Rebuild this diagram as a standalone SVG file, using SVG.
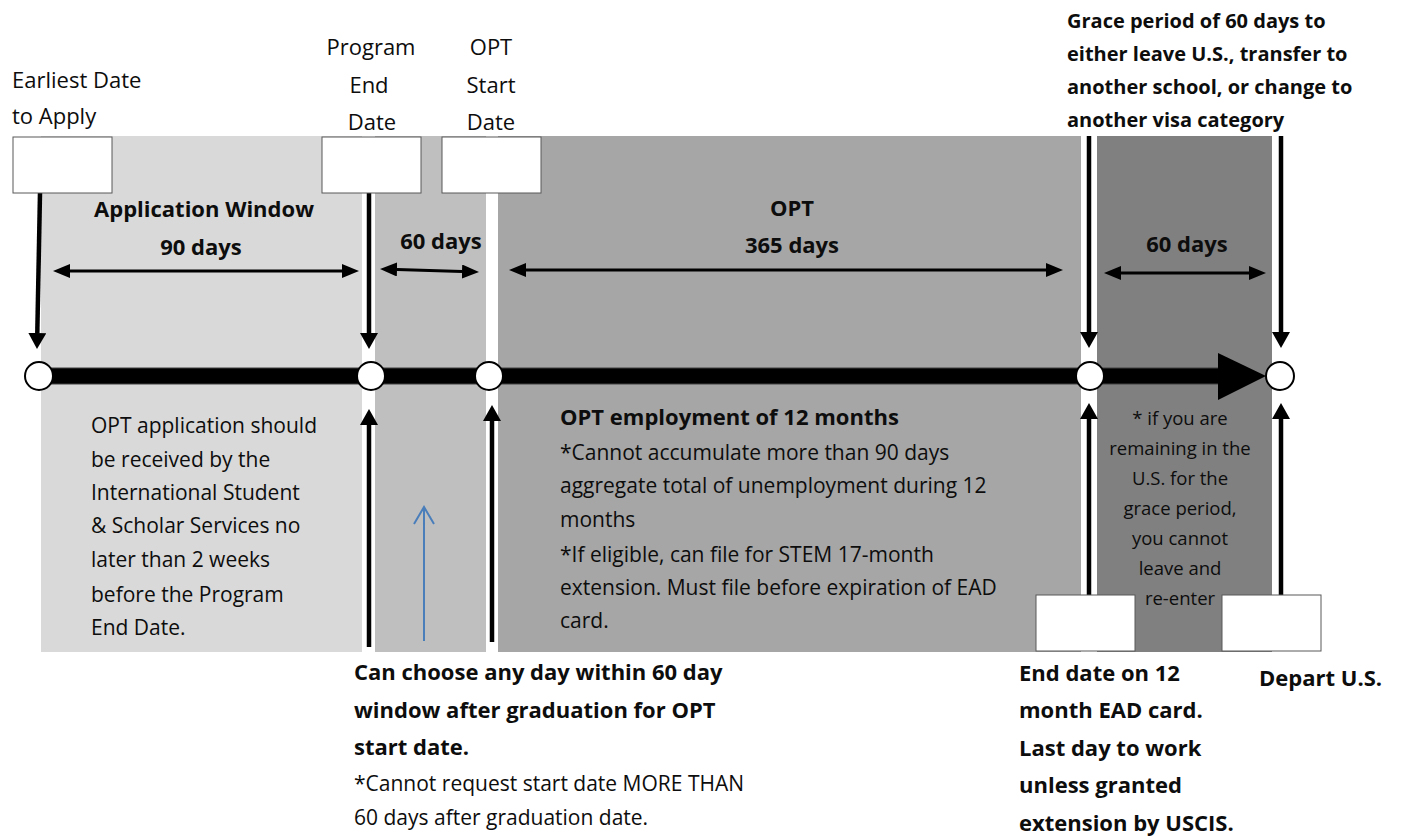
<svg xmlns="http://www.w3.org/2000/svg" width="1402" height="836" viewBox="0 0 1402 836">
<style>
text{font-family:"Open Sans","Liberation Sans",sans-serif;fill:#0d0d0d}
.b{font-weight:bold}
.t22{font-size:22px}
.t21{font-size:21px}
.t20{font-size:20px}
.t18{font-size:18.5px}
.c{text-anchor:middle}
.box{fill:#fff;stroke:#595959;stroke-width:1}
.arr{stroke:#000;stroke-width:4.5;fill:none;marker-end:url(#ah)}
.dbl{stroke:#000;stroke-width:3;fill:none;marker-start:url(#dh);marker-end:url(#dh)}
.node{fill:#fff;stroke:#000;stroke-width:2}
</style>
<defs>
<marker id="ah" viewBox="0 0 16 18" refX="0" refY="9" markerWidth="16" markerHeight="18" orient="auto" markerUnits="userSpaceOnUse"><path d="M0,0 L16,9 L0,18 z" fill="#000"/></marker>
<marker id="dh" viewBox="0 0 17 14" refX="0" refY="7" markerWidth="17" markerHeight="14" orient="auto-start-reverse" markerUnits="userSpaceOnUse"><path d="M0,0 L17,7 L0,14 z" fill="#000"/></marker>
</defs>
<rect width="1402" height="836" fill="#fff"/>
<g id="panels">
<rect x="41" y="136" width="321" height="516" fill="#d9d9d9"/>
<rect x="375" y="136" width="111" height="516" fill="#bfbfbf"/>
<rect x="498" y="136" width="583" height="516" fill="#a6a6a6"/>
<rect x="1097" y="136" width="175" height="516" fill="#808080"/>
</g>
<g id="connectors">
<path class="arr" d="M40,193 L37.3,333"/>
<path class="arr" d="M369,193 L369,333"/>
<path class="arr" d="M1089,136 L1089,332"/>
<path class="arr" d="M1281,136 L1281,332"/>
<path class="arr" d="M369,647 L369,425"/>
<path class="arr" d="M492,642 L492,421"/>
<path class="arr" d="M1089,595 L1089,419"/>
<path class="arr" d="M1281,595 L1281,419"/>
<path d="M424,641 L424,507 M414,524 L424,507 L434,524" stroke="#4a7ebb" stroke-width="2" fill="none"/>
<path class="dbl" d="M70,271 L342,271"/>
<path class="dbl" d="M397,269.5 L462,271.5"/>
<path class="dbl" d="M526,270 L1046,270"/>
<path class="dbl" d="M1121,273 L1249,273"/>
<rect x="39" y="368" width="1180" height="16" fill="#000" stroke="#404040" stroke-width="1"/>
<path d="M1218,353 L1266,376 L1218,400 z" fill="#000"/>
</g>
<g id="timeline-nodes">
<circle class="node" cx="39" cy="376" r="14"/>
<circle class="node" cx="371" cy="376" r="14"/>
<circle class="node" cx="489" cy="376" r="14"/>
<circle class="node" cx="1090" cy="376" r="14"/>
<circle class="node" cx="1280" cy="376" r="14"/>
</g>
<g id="earliest-date">
<rect class="box" x="13" y="137" width="99" height="56"/>
<text class="t22" x="12" y="88">Earliest Date</text>
<text class="t22" x="12" y="124">to Apply</text>
</g>
<g id="program-end-date">
<rect class="box" x="322" y="137" width="99" height="56"/>
<text class="t22 c" x="371" y="55">Program</text>
<text class="t22 c" x="369" y="93">End</text>
<text class="t22 c" x="372" y="130">Date</text>
</g>
<g id="opt-start-date">
<rect class="box" x="442" y="137" width="99" height="56"/>
<text class="t22 c" x="491" y="55">OPT</text>
<text class="t22 c" x="491" y="93">Start</text>
<text class="t22 c" x="491" y="130">Date</text>
</g>
<g id="application-window">
<text class="t22 b c" x="204" y="217">Application Window</text>
<text class="t22 b c" x="201" y="255">90 days</text>
<text class="t21" x="91" y="433">OPT application should</text>
<text class="t21" x="91" y="467">be received by the</text>
<text class="t21" x="91" y="500">International Student</text>
<text class="t21" x="91" y="533">&amp; Scholar Services no</text>
<text class="t21" x="91" y="567">later than 2 weeks</text>
<text class="t21" x="91" y="602">before the Program</text>
<text class="t21" x="91" y="635">End Date.</text>
</g>
<g id="sixty-day-window">
<text class="t22 b c" x="441" y="249">60 days</text>
<text class="t22 b" x="354" y="680">Can choose any day within 60 day</text>
<text class="t22 b" x="354" y="718">window after graduation for OPT</text>
<text class="t22 b" x="354" y="755">start date.</text>
<text class="t21" x="354" y="791">*Cannot request start date MORE THAN</text>
<text class="t21" x="354" y="825">60 days after graduation date.</text>
</g>
<g id="opt-period">
<text class="t22 b c" x="792" y="216">OPT</text>
<text class="t22 b c" x="792" y="253">365 days</text>
<text class="t22 b" x="560" y="425">OPT employment of 12 months</text>
<text class="t21" x="560" y="460">*Cannot accumulate more than 90 days</text>
<text class="t21" x="560" y="493">aggregate total of unemployment during 12</text>
<text class="t21" x="560" y="527">months</text>
<text class="t21" x="560" y="562">*If eligible, can file for STEM 17-month</text>
<text class="t21" x="560" y="595">extension. Must file before expiration of EAD</text>
<text class="t21" x="560" y="628">card.</text>
</g>
<g id="grace-period">
<text class="t20 b" x="1067" y="28">Grace period of 60 days to</text>
<text class="t20 b" x="1067" y="61">either leave U.S., transfer to</text>
<text class="t20 b" x="1067" y="94">another school, or change to</text>
<text class="t20 b" x="1067" y="127">another visa category</text>
<text class="t22 b c" x="1187" y="252">60 days</text>
<text class="t18 c" x="1180" y="425">* if you are</text>
<text class="t18 c" x="1180" y="455">remaining in the</text>
<text class="t18 c" x="1180" y="485">U.S. for the</text>
<text class="t18 c" x="1180" y="515">grace period,</text>
<text class="t18 c" x="1180" y="545">you cannot</text>
<text class="t18 c" x="1180" y="575">leave and</text>
<text class="t18 c" x="1180" y="605">re-enter</text>
</g>
<g id="ead-end-date">
<rect class="box" x="1036" y="595" width="99" height="56"/>
<text class="t22 b" x="1019" y="681">End date on 12</text>
<text class="t22 b" x="1019" y="718">month EAD card.</text>
<text class="t22 b" x="1019" y="756">Last day to work</text>
<text class="t22 b" x="1019" y="793">unless granted</text>
<text class="t22 b" x="1019" y="831">extension by USCIS.</text>
</g>
<g id="depart-us">
<rect class="box" x="1222" y="595" width="99" height="56"/>
<text class="t22 b" x="1259" y="686">Depart U.S.</text>
</g>
</svg>
